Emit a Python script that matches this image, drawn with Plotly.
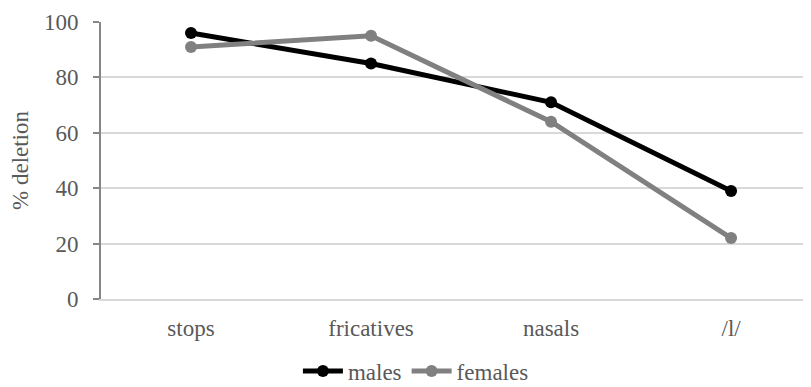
import plotly.graph_objects as go

categories = ["stops", "fricatives", "nasals", "/l/"]
males = [96, 85, 71, 39]
females = [91, 95, 64, 22]
y_ticks = [0, 20, 40, 60, 80, 100]

font_family = "Liberation Serif"
text_color = "#595959"
fsize = 23

fig = go.Figure()
fig.add_trace(go.Scatter(
    x=categories, y=males, name="males", mode="lines+markers",
    line=dict(color="#000000", width=5),
    marker=dict(color="#000000", size=12),
))
fig.add_trace(go.Scatter(
    x=categories, y=females, name="females", mode="lines+markers",
    line=dict(color="#808080", width=5),
    marker=dict(color="#808080", size=12),
))

fig.update_layout(
    width=803, height=379,
    margin=dict(l=93, r=0, t=14, b=88, autoexpand=False),
    paper_bgcolor="white", plot_bgcolor="white",
    font=dict(family=font_family, size=fsize, color=text_color),
    showlegend=True,
    legend=dict(orientation="h", xref="container", yref="container",
                x=0.508, xanchor="center", y=0.042, yanchor="middle",
                font=dict(family=font_family, size=fsize, color=text_color),
                itemwidth=40, tracegroupgap=0),
)
fig.update_xaxes(
    type="category", range=[-0.5, 3.444],
    showline=True, linecolor="#d9d9d9", linewidth=2,
    showgrid=False, ticks="", tickfont=dict(family=font_family, size=fsize, color=text_color),
    ticklabelstandoff=7,
)
fig.update_yaxes(
    range=[0, 100], tickvals=y_ticks,
    showline=True, linecolor="#868686", linewidth=2,
    showgrid=True, gridcolor="#d9d9d9", gridwidth=2,
    ticks="outside", ticklen=6, tickcolor="#868686", tickwidth=2,
    tickfont=dict(family=font_family, size=fsize, color=text_color), ticklabelstandoff=10,
    title=dict(text="% deletion", font=dict(family=font_family, size=fsize, color=text_color), standoff=12),
    zeroline=False,
)

fig.write_html("out.html")
